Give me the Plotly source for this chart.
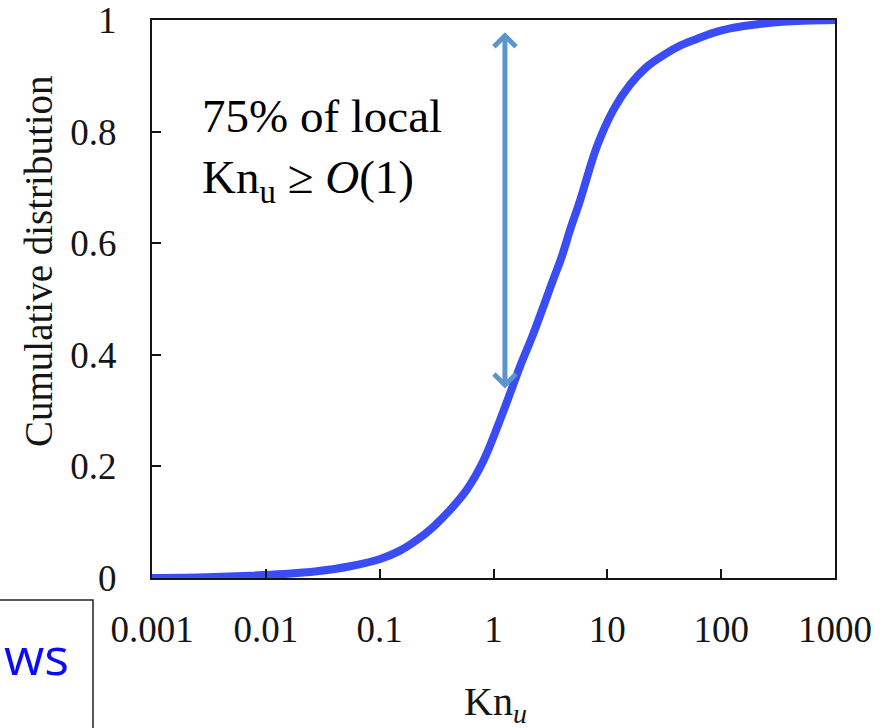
import math
import plotly.graph_objects as go

# ---- data ----
kn_values = [0.001, 0.003, 0.00726, 0.01426, 0.028, 0.055, 0.101, 0.151, 0.212,
             0.297, 0.416, 0.582, 0.815, 1.265, 1.71, 2.24, 2.74, 3.25, 3.98,
             4.71, 5.77, 8.09, 11.3, 15.8, 22.2, 31.1, 43.6, 61, 85, 120,
             200, 350, 1000]
cdf_values = [0.0, 0.0015, 0.004, 0.007, 0.012, 0.021, 0.034, 0.049, 0.068,
              0.092, 0.122, 0.158, 0.21, 0.307, 0.379, 0.438, 0.486, 0.528, 0.576,
              0.624, 0.677, 0.773, 0.839, 0.884, 0.916, 0.937, 0.954, 0.966, 0.977, 0.985,
              0.992, 0.997, 1.0]

x_tick_vals = [0.001, 0.01, 0.1, 1, 10, 100, 1000]
x_tick_text = ["0.001", "0.01", "0.1", "1", "10", "100", "1000"]
y_tick_vals = [0, 0.2, 0.4, 0.6, 0.8, 1]
y_tick_text = ["0", "0.2", "0.4", "0.6", "0.8", "1"]

arrow_kn = 1.26
arrow_top = 0.978
arrow_bottom = 0.337

W, H = 881, 728
L, R, T, B = 152, 835, 20, 578

def px_to_paper_x(px):
    return (px - L) / (R - L)

def px_to_paper_y(py):
    return (B - py) / (B - T)

serif = "Liberation Serif"
ink = "#151515"

fig = go.Figure()
fig.add_trace(go.Scatter(
    x=kn_values, y=cdf_values, mode="lines",
    line=dict(color="#3a4cf6", width=8, shape="spline", smoothing=1.0),
    showlegend=False, hoverinfo="skip",
))

fig.update_layout(
    width=W, height=H,
    margin=dict(l=L, r=W - R, t=T, b=H - B, pad=0, autoexpand=False),
    paper_bgcolor="white", plot_bgcolor="white",
    font=dict(family=serif, color=ink),
    xaxis=dict(
        type="log", range=[-3, 3], automargin=False,
        tickvals=x_tick_vals, ticktext=x_tick_text,
        ticks="inside", ticklen=9, tickwidth=2, tickcolor=ink,
        showline=True, linecolor=ink, linewidth=2, mirror=True,
        showgrid=False, zeroline=False,
        tickfont=dict(family=serif, size=37, color=ink),
        ticklabelstandoff=18, ticklabeloverflow="allow",
    ),
    yaxis=dict(
        range=[0, 1], automargin=False,
        tickvals=y_tick_vals, ticktext=y_tick_text,
        ticks="inside", ticklen=9, tickwidth=2, tickcolor=ink,
        showline=True, linecolor=ink, linewidth=2, mirror=True,
        showgrid=False, zeroline=False,
        tickfont=dict(family=serif, size=37, color=ink),
        ticklabelstandoff=26, ticklabeloverflow="allow",
    ),
)

annotations = [
    # y-axis title
    dict(text="Cumulative distribution", textangle=-90,
         xref="paper", yref="paper",
         x=px_to_paper_x(38), y=px_to_paper_y(261),
         xanchor="center", yanchor="middle", showarrow=False,
         font=dict(family=serif, size=39, color=ink)),
    # x-axis title
    dict(text="Kn<sub><i>u</i></sub>",
         xref="paper", yref="paper",
         x=px_to_paper_x(495), y=px_to_paper_y(704),
         xanchor="center", yanchor="middle", showarrow=False,
         font=dict(family=serif, size=40, color=ink)),
    # in-plot text
    dict(text="75% of local<br>Kn<sub>u</sub> ≥ <i>O</i>(1)",
         xref="paper", yref="paper",
         x=px_to_paper_x(200), y=px_to_paper_y(88),
         xanchor="left", yanchor="top", align="left", showarrow=False,
         font=dict(family=serif, size=47, color="black")),
    # double arrow
    dict(text="", x=math.log10(arrow_kn), y=arrow_top,
         ax=math.log10(arrow_kn), ay=arrow_bottom,
         xref="x", yref="y", axref="x", ayref="y",
         showarrow=True, arrowside="end+start",
         arrowhead=4, startarrowhead=4,
         arrowsize=0.85, startarrowsize=0.85,
         arrowwidth=5, arrowcolor="#5b95cd"),
    # "ws" label
    dict(text="ws", xref="paper", yref="paper",
         x=px_to_paper_x(36), y=px_to_paper_y(654),
         xanchor="center", yanchor="middle", showarrow=False,
         font=dict(family="Open Sans", size=52, color="#0a0aff")),
]
fig.update_layout(annotations=annotations)

fig.add_shape(type="rect", xref="paper", yref="paper",
              x0=px_to_paper_x(-10), x1=px_to_paper_x(93),
              y0=px_to_paper_y(740), y1=px_to_paper_y(600),
              line=dict(color="#222222", width=1.5), fillcolor="rgba(0,0,0,0)")

fig.write_html("out.html")
